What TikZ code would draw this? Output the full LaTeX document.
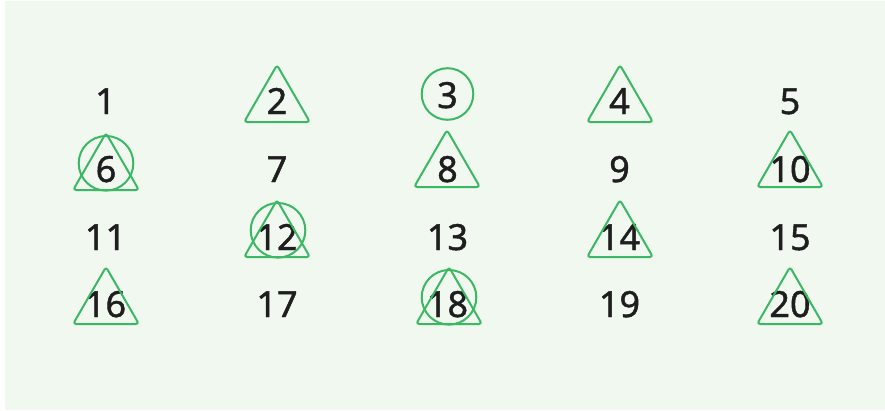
\documentclass[tikz,border=0pt]{standalone}
\usepackage{fontspec}
\newfontfamily\numfont{Noto Sans}[UprightFeatures={FakeBold=1.2}]

\definecolor{bgmint}{RGB}{240,248,240}
\definecolor{ringgreen}{RGB}{60,184,100}
\definecolor{numblack}{RGB}{30,30,30}

\tikzset{
  num/.style={font=\numfont\fontsize{36}{40}\selectfont, text=numblack, anchor=base, inner sep=0pt},
  ring/.style={draw=ringgreen, line width=2pt},
  tri/.style={draw=ringgreen, line width=2pt, rounded corners=3pt, line join=round}
}
% triangle with its apex at (#1,#2)
\newcommand{\triup}[2]{\draw[tri] (#1,#2) -- ++(32.9,57) -- ++(-65.8,0) -- cycle;}

\begin{document}
\begin{tikzpicture}[x=1pt, y=-1pt]
  \useasboundingbox (0,0) rectangle (885,410);
  \fill[bgmint] (5,1) rectangle (885,410);

  % numbers
  \foreach \i/\x/\y in {1/105.5/114, 2/277/114, 3/447.5/108, 4/619.5/114, 5/790/114,
                        6/106/182, 7/277/182, 8/447.5/182, 9/619.5/182, 10/790/182,
                        11/105.5/250, 12/277/250, 13/447.5/250, 14/619.5/250, 15/790/250,
                        16/105.5/317, 17/277/317, 18/447.5/317, 19/619.5/317, 20/790/317}
    \node[num] (n\i) at (\x,\y) {\i};

  % circles
  \draw[ring] (447.5,94) circle (25.8);
  \draw[ring] (106,163.3) circle (27.3);
  \draw[ring] (278,230.3) circle (27.3);
  \draw[ring] (449,297.3) circle (27.3);

  % triangles
  \triup{277}{65}
  \triup{620}{65}
  \triup{106}{133}
  \triup{447}{130}
  \triup{790}{130}
  \triup{277}{200}
  \triup{620}{200}
  \triup{106}{267}
  \triup{449}{267}
  \triup{790}{267}
\end{tikzpicture}
\end{document}
